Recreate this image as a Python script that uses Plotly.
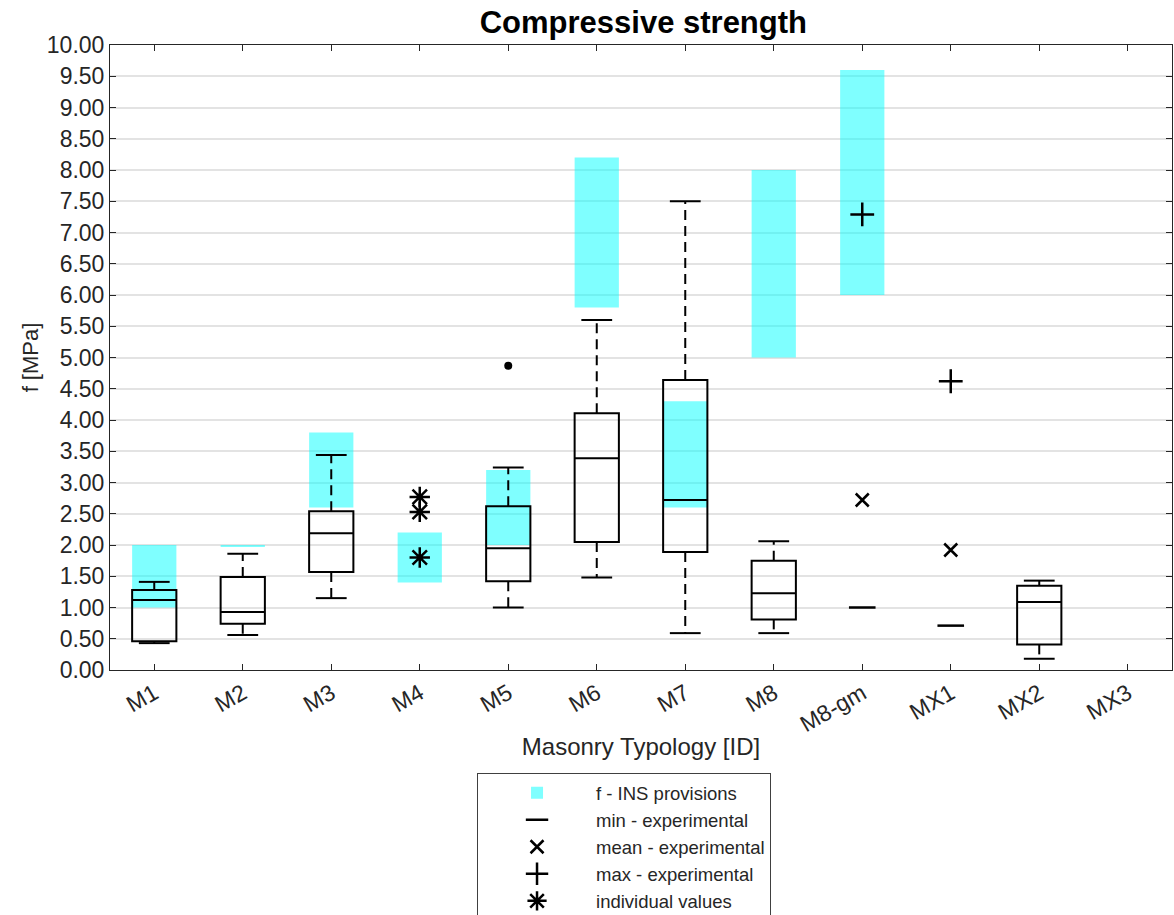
import plotly.graph_objects as go

categories = ['M1', 'M2', 'M3', 'M4', 'M5', 'M6', 'M7', 'M8', 'M8-gm', 'MX1', 'MX2', 'MX3']

# INS provisions (range low-high)
ins_cats = ['M1', 'M2', 'M3', 'M4', 'M5', 'M6', 'M7', 'M8', 'M8-gm']
ins_low = [1.0, 1.97, 2.6, 1.4, 2.0, 5.8, 2.6, 5.0, 6.0]
ins_high = [2.0, 2.0, 3.8, 2.2, 3.2, 8.2, 4.3, 8.0, 9.6]

# experimental box statistics
box_cats = ['M1', 'M2', 'M3', 'M5', 'M6', 'M7', 'M8', 'MX2']
box_low = [0.43, 0.56, 1.15, 1.00, 1.48, 0.59, 0.59, 0.18]
box_q1 = [0.46, 0.74, 1.57, 1.42, 2.05, 1.89, 0.81, 0.41]
box_med = [1.12, 0.93, 2.19, 1.95, 3.39, 2.72, 1.23, 1.09]
box_q3 = [1.28, 1.49, 2.54, 2.62, 4.11, 4.64, 1.75, 1.35]
box_high = [1.41, 1.86, 3.44, 3.24, 5.60, 7.50, 2.06, 1.43]

outlier_cats = ['M5']
outlier_vals = [4.87]

stat_cats = ['M8-gm', 'MX1']
stat_min = [1.0, 0.71]
stat_mean = [2.72, 1.92]
stat_max = [7.29, 4.62]

indiv_cats = ['M4', 'M4', 'M4']
indiv_vals = [2.77, 2.53, 1.80]

FONT = 'Liberation Sans, Arial, sans-serif'

fig = go.Figure()

fig.add_trace(go.Bar(
    x=ins_cats, y=[h - l for l, h in zip(ins_low, ins_high)], base=ins_low,
    width=0.5, marker=dict(color='rgba(0,255,255,0.5)', line=dict(width=0)),
    name='f - INS provisions', showlegend=True, legendrank=1))

fig.add_trace(go.Box(
    x=box_cats, q1=box_q1, median=box_med, q3=box_q3,
    lowerfence=box_q1, upperfence=box_q3, width=0.5, whiskerwidth=0,
    fillcolor='rgba(0,0,0,0)', line=dict(color='black', width=2),
    boxpoints=False, showlegend=False, hoverinfo='skip'))

wx, wy = [], []
for c, lo, a, b, hi in zip(box_cats, box_low, box_q1, box_q3, box_high):
    wx += [c, c, None, c, c, None]
    wy += [b, hi, None, a, lo, None]
fig.add_trace(go.Scatter(x=wx, y=wy, mode='lines',
                         line=dict(color='black', width=2, dash='10px,6px'),
                         showlegend=False, hoverinfo='skip'))

fig.add_trace(go.Scatter(
    x=box_cats + box_cats, y=box_low + box_high, mode='markers',
    marker=dict(symbol='line-ew', size=22, line=dict(color='black', width=2)),
    showlegend=False, hoverinfo='skip'))

fig.add_trace(go.Scatter(
    x=outlier_cats, y=outlier_vals, mode='markers',
    marker=dict(symbol='circle', size=8, color='black'),
    showlegend=False))

fig.add_trace(go.Scatter(
    x=stat_cats, y=stat_min, mode='markers', name='min - experimental', legendrank=2,
    marker=dict(symbol='line-ew', size=19, line=dict(color='black', width=2.5))))
fig.add_trace(go.Scatter(
    x=stat_cats, y=stat_mean, mode='markers', name='mean - experimental', legendrank=3,
    marker=dict(symbol='x-thin', size=13, line=dict(color='black', width=2.5))))
fig.add_trace(go.Scatter(
    x=stat_cats, y=stat_max, mode='markers', name='max - experimental', legendrank=4,
    marker=dict(symbol='cross-thin', size=17, line=dict(color='black', width=2.5))))
fig.add_trace(go.Scatter(
    x=indiv_cats, y=indiv_vals, mode='markers', name='individual values', legendrank=5,
    marker=dict(symbol='asterisk', size=17, line=dict(color='black', width=2.5))))

axis_font = dict(family=FONT, size=23, color='#262626')

fig.update_layout(
    width=1174, height=915,
    margin=dict(l=110, r=2, t=45, b=245, autoexpand=False),
    paper_bgcolor='white', plot_bgcolor='white',
    barmode='overlay', boxmode='overlay',
    font=dict(family=FONT, color='#262626'),
    title=dict(text='<b>Compressive strength</b>', x=0.548, xanchor='center',
               y=0.976, yanchor='middle',
               font=dict(family=FONT, size=31, color='black')),
    xaxis=dict(categoryorder='array', categoryarray=categories, type='category',
               range=[-0.5, 11.5], tickangle=-30, tickfont=axis_font, automargin=False,
               showline=True, linecolor='#262626', linewidth=1, mirror='ticks',
               ticks='inside', ticklen=6, tickcolor='#262626', showgrid=False,
               title=dict(text='Masonry Typology [ID]', font=dict(family=FONT, size=24, color='#262626'), standoff=2)),
    yaxis=dict(range=[0, 10], dtick=0.5, tick0=0, tickformat='.2f', tickfont=axis_font, automargin=False,
               showline=True, linecolor='#262626', linewidth=1, mirror='ticks',
               ticks='inside', ticklen=6, tickcolor='#262626',
               showgrid=True, gridcolor='#e3e3e3', gridwidth=1.5, zeroline=False,
               title=dict(text='f [MPa]', font=dict(family=FONT, size=22, color='#262626'), standoff=2)),
    legend=dict(x=0.3456, xanchor='left', y=-0.165, yanchor='top',
                bgcolor='white', bordercolor='#404040', borderwidth=1,
                font=dict(family=FONT, size=18.5, color='#262626'), tracegroupgap=0,
                traceorder='normal', itemwidth=108),
)

fig.write_html('out.html')
